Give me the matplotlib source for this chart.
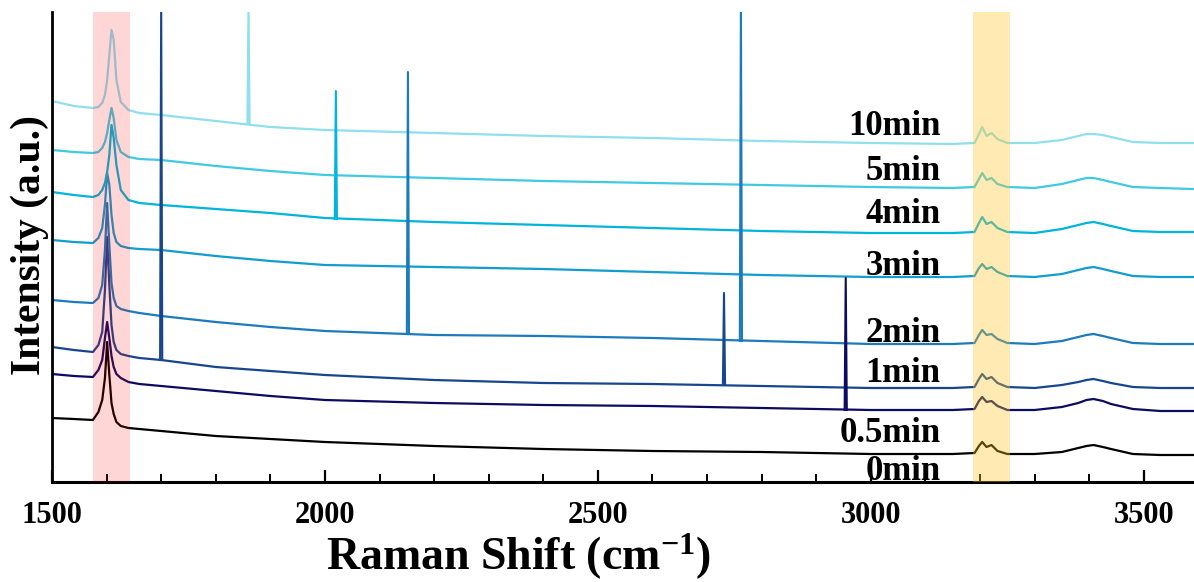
import matplotlib
matplotlib.use("Agg")
import matplotlib.pyplot as plt
from matplotlib.ticker import MultipleLocator

plt.rcParams['font.family'] = ['Liberation Serif', 'DejaVu Serif']
plt.rcParams['font.weight'] = 'bold'
plt.rcParams['mathtext.fontset'] = 'custom'
plt.rcParams['mathtext.rm'] = 'Liberation Serif:bold'
plt.rcParams['mathtext.bf'] = 'Liberation Serif:bold'
plt.rcParams['mathtext.it'] = 'Liberation Serif:italic:bold'

# Raman shift sample points (cm-1), shared by all spectra
shift = [1500, 1540, 1575, 1585, 1592, 1597, 1601, 1605, 1609, 1613, 1618, 1626,
         1640, 1660, 1700, 1800, 1900, 2000, 2200, 2400, 2600, 2800, 3000, 3150,
         3190, 3198, 3204, 3212, 3221, 3232, 3250, 3300, 3350, 3380, 3395, 3408,
         3425, 3440, 3480, 3530, 3590]

# stacked intensities (a.u.), offset per exposure time
i_0min = [64, 63, 62, 70, 82, 104, 140, 107, 79, 68, 60, 56,
          54, 53, 51, 46, 43, 40, 36, 33, 31, 30, 28, 28,
          29, 36, 40, 35, 37, 31, 28, 28, 30, 34, 36, 37,
          35, 33, 28, 27, 27]
i_05min = [108, 106, 105, 112, 122, 144, 160, 144, 126, 115, 108, 104,
           100, 98, 96, 91, 86, 82, 79, 77, 76, 74, 72, 72,
           73, 81, 85, 80, 81, 76, 72, 72, 75, 79, 82, 83,
           81, 78, 73, 71, 71]
i_1min = [135, 132, 130, 137, 150, 192, 245, 197, 157, 140, 132, 128,
          126, 124, 122, 115, 111, 107, 102, 99, 98, 96, 94, 94,
          95, 103, 108, 103, 105, 99, 95, 94, 97, 100, 102, 103,
          101, 99, 95, 94, 94]
i_2min = [182, 180, 179, 184, 197, 232, 279, 237, 199, 184, 176, 173,
          171, 169, 166, 160, 155, 151, 147, 146, 144, 141, 138, 138,
          139, 147, 152, 147, 148, 143, 139, 138, 141, 145, 147, 148,
          146, 144, 139, 138, 138]
i_3min = [242, 240, 239, 244, 254, 277, 309, 297, 267, 249, 240, 236,
          234, 233, 232, 226, 221, 217, 215, 213, 210, 207, 205, 205,
          206, 214, 218, 213, 215, 210, 206, 205, 208, 212, 214, 215,
          213, 211, 206, 205, 205]
i_4min = [290, 287, 285, 287, 292, 299, 310, 327, 357, 344, 317, 292,
          282, 279, 277, 273, 269, 264, 260, 257, 254, 251, 249, 249,
          250, 259, 265, 258, 260, 254, 250, 249, 253, 257, 259, 260,
          258, 256, 251, 250, 250]
i_5min = [332, 330, 329, 330, 334, 340, 349, 362, 374, 364, 342, 330,
          325, 323, 322, 316, 311, 307, 304, 301, 299, 297, 295, 294,
          295, 303, 309, 302, 304, 298, 295, 294, 298, 302, 304, 304,
          302, 300, 295, 294, 293]
i_10min = [381, 376, 374, 375, 379, 387, 402, 427, 452, 442, 402, 380,
           372, 369, 367, 361, 355, 352, 349, 346, 344, 341, 339, 338,
           339, 348, 355, 346, 349, 343, 339, 339, 342, 346, 348, 348,
           347, 345, 340, 339, 339]

labels = ['0min', '0.5min', '1min', '2min', '3min', '4min', '5min', '10min']
spectra = [i_0min, i_05min, i_1min, i_2min, i_3min, i_4min, i_5min, i_10min]
colors = ['#000000', '#0b0b62', '#17468f', '#1b7bbd', '#129ccf', '#00b4dc',
          '#3fcae2', '#8fdfee']
label_y = [2, 40, 100, 140, 207, 259, 302, 347]

# cosmic-ray spikes: (spectrum, shift, base, top)
spikes = [('1min', 1700, 122, 480), ('10min', 1860, 359, 480),
          ('4min', 2020, 263, 391), ('2min', 2152, 148, 410),
          ('2min', 2762, 141, 480), ('1min', 2731, 97, 189),
          ('0.5min', 2954, 72, 204)]

fig = plt.figure(figsize=(11.94, 5.82), dpi=100)
ax = fig.add_axes([52 / 1194, 100 / 582, 1 - 52 / 1194, 470 / 582])

for lab, y, c in zip(labels, spectra, colors):
    ax.plot(shift, y, color=c, lw=1.6, zorder=2)
for lab, x0, base, top in spikes:
    c = colors[labels.index(lab)]
    ax.plot([x0 - 2, x0, x0 + 2], [base, top, base], color=c, lw=1.5, zorder=2)

# G band and 2D band markers
ax.axvspan(1575, 1643, color='red', alpha=0.16, lw=0, zorder=3)
ax.axvspan(3187, 3255, color='#ffc425', alpha=0.35, lw=0, zorder=3)

for lab, yl in zip(labels, label_y):
    ax.text(3128, yl, lab, ha='right', va='baseline', fontsize=25,
            fontweight='bold', zorder=4)

ax.set_xlim(1500, 3592)
ax.set_ylim(0, 470)
ax.set_yticks([])
ax.xaxis.set_major_locator(MultipleLocator(500))
ax.xaxis.set_minor_locator(MultipleLocator(100))
ax.tick_params(axis='x', which='major', direction='in', length=9, width=1.6,
               labelsize=22, pad=14)
ax.tick_params(axis='x', which='minor', direction='in', length=6, width=1.4)
for lbl in ax.get_xticklabels():
    lbl.set_fontweight('bold')
ax.spines['top'].set_visible(False)
ax.spines['right'].set_visible(False)
ax.spines['left'].set_linewidth(2)
ax.spines['bottom'].set_linewidth(2.2)

fig.text(518 / 1194, 12 / 582, 'Raman Shift (cm$^{-1}$)', ha='center',
         va='baseline', fontsize=33, fontweight='bold')
fig.text(30 / 1194, 1 - 245 / 582, 'Intensity (a.u.)', ha='center',
         va='center', rotation=90, fontsize=30, fontweight='bold')

fig.savefig('out.png', dpi=100)
